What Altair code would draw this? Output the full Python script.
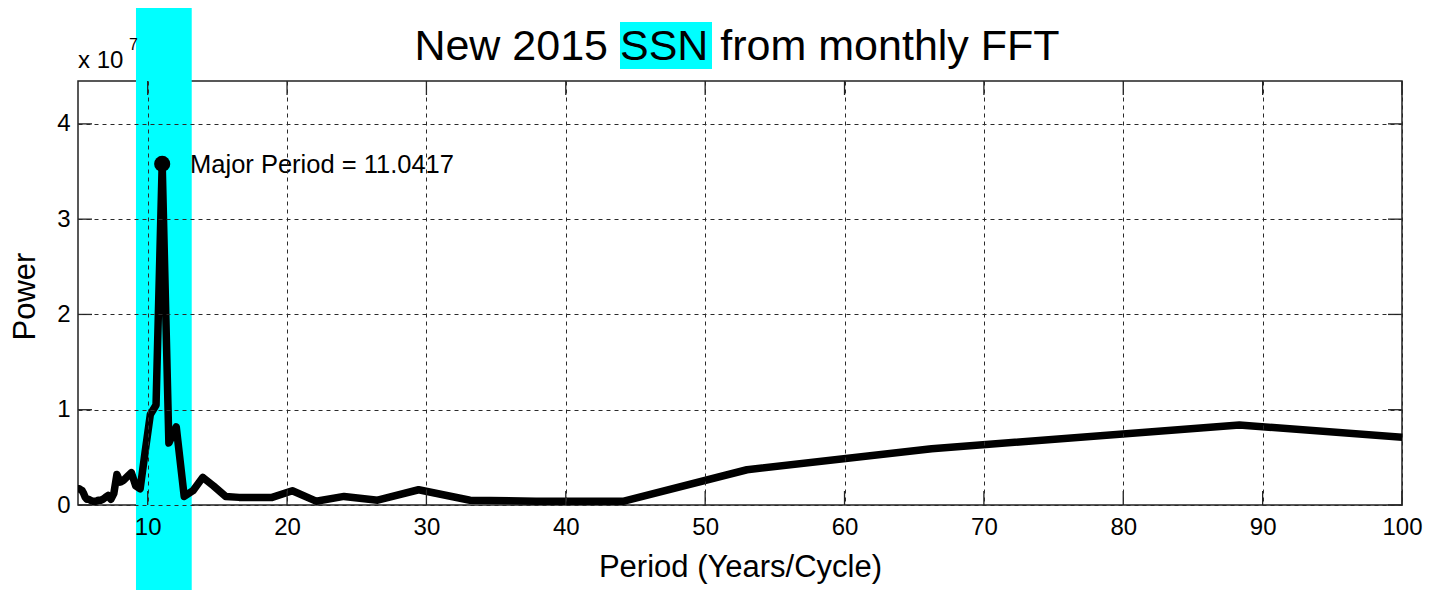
import altair as alt
import pandas as pd

FONT = "Liberation Sans"

# Period (years/cycle) of each FFT bin and its power (in units of 10^7)
periods = [132.5, 88.33, 66.25, 53.0, 44.17, 37.86, 33.13, 29.44, 26.5, 24.09,
           22.08, 20.38, 18.93, 17.67, 16.56, 15.59, 14.72, 13.95, 13.25, 12.62,
           12.05, 11.52, 11.04, 10.6, 10.19, 9.81, 9.46, 9.14, 8.83, 8.55,
           8.28, 8.03, 7.79, 7.57, 7.36, 7.16, 6.97, 6.79, 6.63, 6.46,
           6.31, 6.16, 6.02, 5.89, 5.76, 5.64, 5.52, 5.41, 5.3, 5.2,
           5.1, 5.0]
power = [0.35, 0.84, 0.59, 0.37, 0.04, 0.04, 0.05, 0.16, 0.05, 0.09,
         0.04, 0.15, 0.08, 0.08, 0.08, 0.09, 0.20, 0.29, 0.15, 0.09,
         0.82, 0.65, 3.58, 1.05, 0.95, 0.55, 0.17, 0.20, 0.34, 0.30,
         0.26, 0.24, 0.32, 0.12, 0.06, 0.10, 0.08, 0.06, 0.05, 0.05,
         0.04, 0.04, 0.04, 0.05, 0.06, 0.06, 0.08, 0.12, 0.15, 0.16,
         0.17, 0.17]

peak_period = [11.04]
peak_power = [3.58]
peak_label = ["Major Period = 11.0417"]
label_period = [13.04]

x_ticks = [10, 20, 30, 40, 50, 60, 70, 80, 90, 100]
y_ticks = [0, 1, 2, 3, 4]
x_domain = [5, 100]
y_domain = [0, 4.45]

band_start = [9.16]
band_end = [13.16]

title_text = "New 2015 SSN from monthly FFT"
x_title = "Period (Years/Cycle)"
y_title = "Power"

W, H = 1324, 424
CYAN = "#00FFFF"

x_scale = alt.Scale(domain=x_domain, nice=False, zero=False)
y_scale = alt.Scale(domain=y_domain, nice=False, zero=False)

x_axis = alt.Axis(values=x_ticks, grid=True, gridDash=[4, 4], gridColor="#2a2a2a",
                  gridWidth=1, domain=False, ticks=False, labelFont=FONT,
                  labelFontSize=24, labelColor="black", labelPadding=10,
                  labelFlush=False, labelOverlap=False,
                  title=x_title, titleFont=FONT, titleFontSize=31,
                  titleFontWeight="normal", titleColor="black",
                  titleBaseline="alphabetic", titleY=71, titleX=W / 2, zindex=1)
y_axis = alt.Axis(values=y_ticks, grid=True, gridDash=[4, 4], gridColor="#2a2a2a",
                  gridWidth=1, domain=False, ticks=False, labelFont=FONT,
                  labelFontSize=24, labelColor="black", labelPadding=8,
                  labelFlush=False, labelOverlap=False,
                  title=y_title, titleFont=FONT, titleFontSize=31,
                  titleFontWeight="normal", titleColor="black",
                  titleAngle=270, titleBaseline="alphabetic", titleAlign="center",
                  titleX=-44, titleY=215, zindex=1)


def X(field):
    return alt.X(field, type="quantitative", scale=x_scale, axis=x_axis)


def Y(field):
    return alt.Y(field, type="quantitative", scale=y_scale, axis=y_axis)


spec_df = pd.DataFrame({"period": periods, "power": power})
band_df = pd.DataFrame({"period": band_start, "period_end": band_end})
peak_df = pd.DataFrame({"period": peak_period, "power": peak_power,
                        "label": peak_label, "label_period": label_period})
xt_df = pd.DataFrame({"period": x_ticks})
yt_df = pd.DataFrame({"power": y_ticks})
one = pd.DataFrame({"t": [title_text]})

band = alt.Chart(band_df).mark_rect(color=CYAN, clip=False).encode(
    x=X("period"), x2="period_end", y=alt.value(-74), y2=alt.value(509))

ssn_box = alt.Chart(one).mark_rect(color=CYAN, clip=False).encode(
    x=alt.value(542), x2=alt.value(634), y=alt.value(-59), y2=alt.value(-12))

line = alt.Chart(spec_df).mark_line(color="black", strokeWidth=7.5, clip=True,
                                    strokeJoin="round").encode(
    x=X("period"), y=Y("power"))

peak = alt.Chart(peak_df).mark_point(filled=True, shape="circle", size=260,
                                     color="black", opacity=1).encode(
    x=X("period"), y=Y("power"))

peak_text = alt.Chart(peak_df).mark_text(align="left", baseline="middle", font=FONT,
                                         fontSize=25.5, color="black", dy=1).encode(
    x=X("label_period"), y=Y("power"), text="label:N")

tick_style = dict(color="#222222", strokeWidth=1.3)
xt_bottom = alt.Chart(xt_df).mark_rule(**tick_style).encode(
    x=X("period"), y=alt.value(H), y2=alt.value(H - 14))
xt_top = alt.Chart(xt_df).mark_rule(**tick_style).encode(
    x=X("period"), y=alt.value(0), y2=alt.value(14))
yt_left = alt.Chart(yt_df).mark_rule(**tick_style).encode(
    y=Y("power"), x=alt.value(0), x2=alt.value(14))
yt_right = alt.Chart(yt_df).mark_rule(**tick_style).encode(
    y=Y("power"), x=alt.value(W), x2=alt.value(W - 14))

title = alt.Chart(one).mark_text(align="center", baseline="alphabetic", font=FONT,
                                 fontSize=43, color="black").encode(
    x=alt.value(659), y=alt.value(-21), text="t:N")

exp_base = alt.Chart(pd.DataFrame({"t": ["x 10"]})).mark_text(
    align="left", baseline="alphabetic", font=FONT, fontSize=24, color="black").encode(
    x=alt.value(0), y=alt.value(-13), text="t:N")
exp_sup = alt.Chart(pd.DataFrame({"t": ["7"]})).mark_text(
    align="left", baseline="alphabetic", font=FONT, fontSize=16, color="black").encode(
    x=alt.value(51), y=alt.value(-31), text="t:N")

chart = alt.layer(
    band, ssn_box, line, peak, peak_text, xt_bottom, xt_top, yt_left, yt_right,
    title, exp_base, exp_sup
).properties(
    width=W, height=H,
    autosize=alt.AutoSizeParams(type="none"),
    padding={"left": 70, "top": 73, "right": 21, "bottom": 90},
    background="white",
).configure_view(stroke="#222222", strokeWidth=1.5)

chart.save("out.html", embed_options={"renderer": "svg", "actions": False})
